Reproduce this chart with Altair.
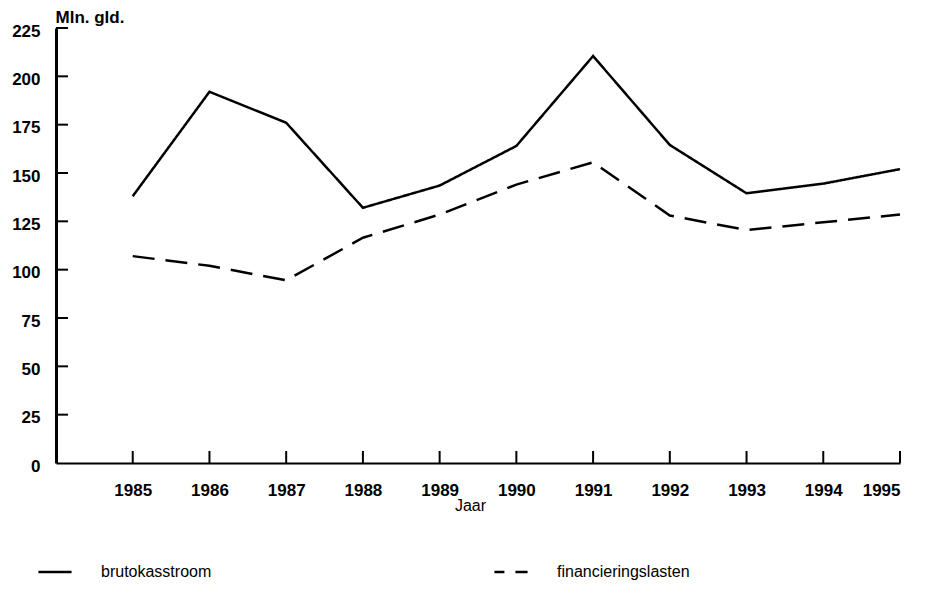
import altair as alt
import pandas as pd

years = [1985, 1986, 1987, 1988, 1989, 1990, 1991, 1992, 1993, 1994, 1995]
brutokasstroom = [138, 192, 176, 132, 143.5, 164, 210.5, 164.5, 139.5, 144.5, 152]
financieringslasten = [107, 102, 94.5, 116.5, 128.5, 144, 155.5, 128, 120.5, 124.5, 128.5]
series_names = ["brutokasstroom", "financieringslasten"]
y_ticks = [0, 25, 50, 75, 100, 125, 150, 175, 200, 225]

rows = []
for y, b, f in zip(years, brutokasstroom, financieringslasten):
    rows.append({"jaar": y, "serie": series_names[0], "waarde": b})
    rows.append({"jaar": y, "serie": series_names[1], "waarde": f})
df = pd.DataFrame(rows)

W, H = 844, 435
FONT = "Liberation Sans"

xscale = alt.Scale(domain=[1984, 1995], nice=False, zero=False)
yscale = alt.Scale(domain=[0, 225], nice=False)

lines = alt.Chart(df).mark_line(strokeWidth=2.5, color="black").encode(
    x=alt.X("jaar:Q", scale=xscale,
            axis=alt.Axis(values=years, format="d", title="Jaar", grid=False,
                          tickSize=0, labelPadding=19, labelFontSize=17,
                          labelFontWeight="bold", labelFont=FONT,
                          domainColor="black", domainWidth=2,
                          titleFont=FONT, titleFontSize=16, titleFontWeight="normal",
                          titleX=414, titleY=47, titleAlign="center",
                          titleBaseline="alphabetic", labelColor="black", titleColor="black")),
    y=alt.Y("waarde:Q", scale=yscale,
            axis=alt.Axis(values=y_ticks, title="Mln. gld.", grid=False, tickSize=0,
                          labelPadding=16, labelFontSize=17, labelFontWeight="bold",
                          labelFont=FONT, labelOffset=3, domainColor="black", domainWidth=3,
                          titleFont=FONT, titleFontSize=17, titleFontWeight="bold",
                          titleAngle=0, titleAlign="left", titleBaseline="alphabetic",
                          titleX=-1, titleY=-6, labelColor="black", titleColor="black")),
    strokeDash=alt.StrokeDash(
        "serie:N",
        scale=alt.Scale(domain=series_names, range=[[1, 0], [22, 11]]),
        legend=alt.Legend(title=None, orient="none", direction="horizontal",
                          legendX=-19, legendY=526, symbolType="stroke",
                          symbolSize=1100, symbolStrokeWidth=2.5,
                          symbolStrokeColor="black", symbolDashOffset=12,
                          labelFont=FONT,
                          labelFontSize=16, labelColor="black", labelOffset=28,
                          columnPadding=277, padding=0)),
    detail="serie:N",
)

xt = pd.DataFrame({"jaar": years})
xticks = alt.Chart(xt).mark_rule(color="black", strokeWidth=2).encode(
    x=alt.X("jaar:Q", scale=xscale),
    y=alt.value(H),
    y2=alt.value(H - 12),
)

yt = pd.DataFrame({"v": y_ticks[1:]})
yticks = alt.Chart(yt).mark_rule(color="black", strokeWidth=2).encode(
    y=alt.Y("v:Q", scale=yscale),
    x=alt.value(0),
    x2=alt.value(12),
)

chart = alt.layer(lines, xticks, yticks).properties(
    width=W, height=H,
    background="white",
    autosize=alt.AutoSizeParams(type="none"),
    padding={"left": 48, "top": 20, "right": 18, "bottom": 125},
).configure_view(stroke=None, strokeWidth=0)

chart.save("out.html", embed_options={"renderer": "svg", "actions": False})
